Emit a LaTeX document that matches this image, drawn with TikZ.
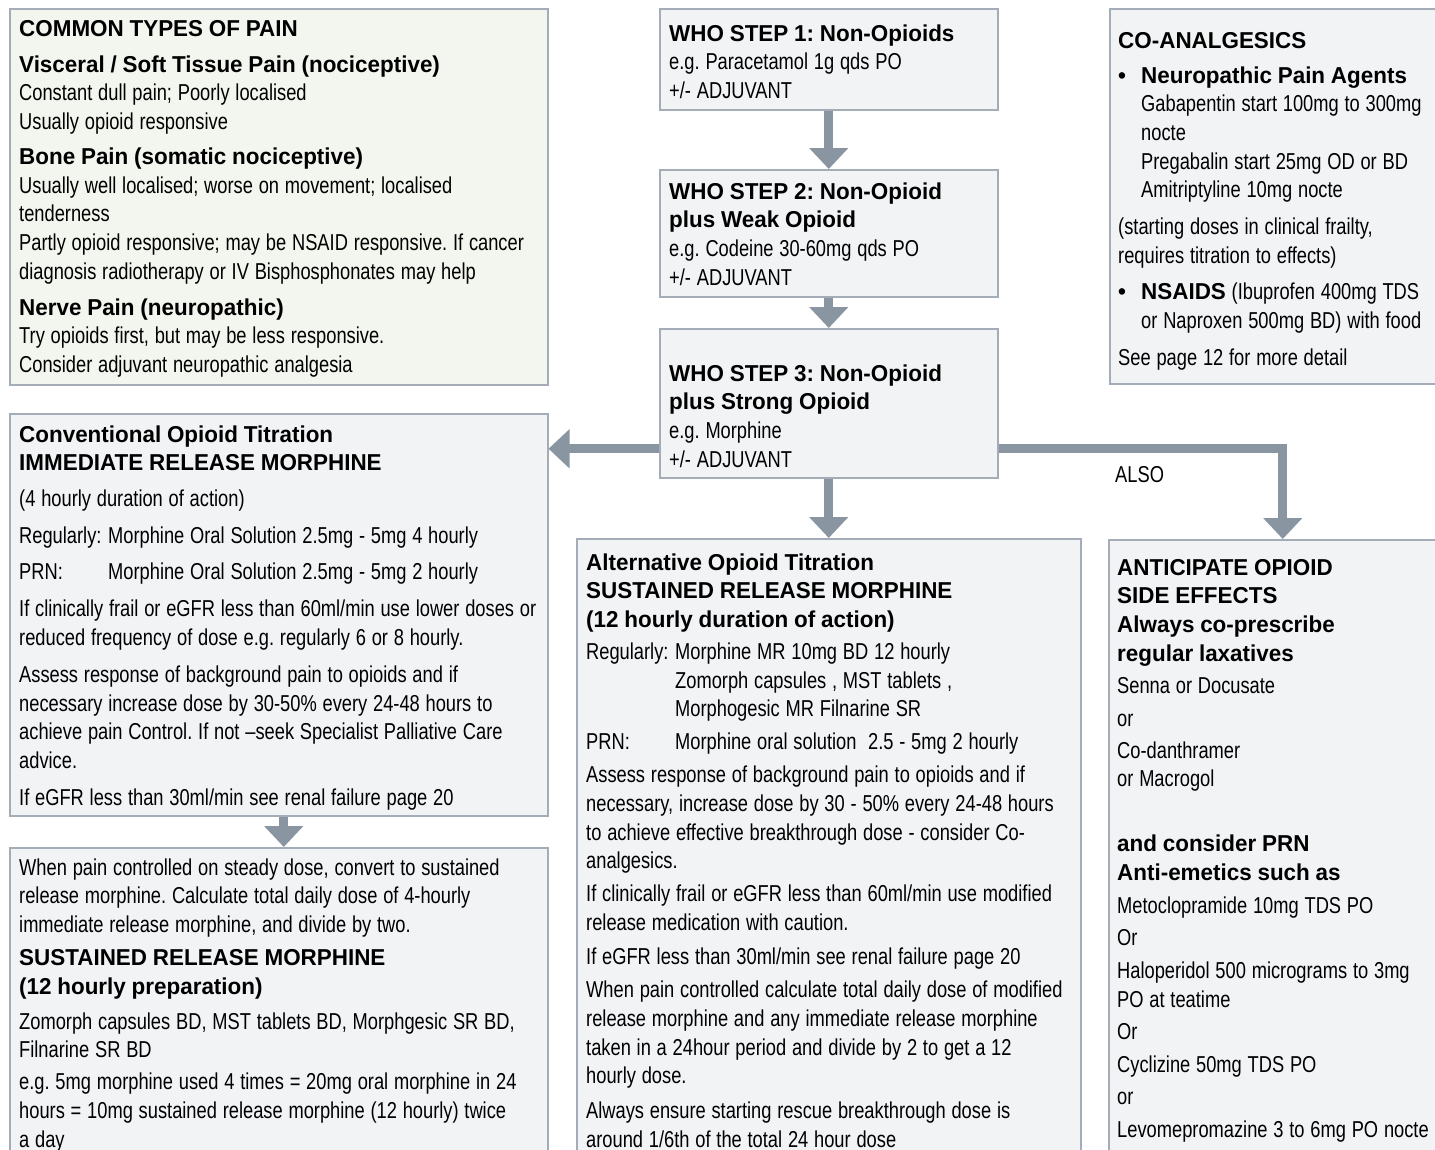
\documentclass[tikz,border=0pt]{standalone}
\usepackage{fontspec}
\setmainfont{Liberation Sans}[FakeStretch=0.795, BoldFont={Liberation Sans Bold}, BoldFeatures={FakeStretch=0.975}]
\usepackage{xcolor}
\usetikzlibrary{arrows.meta, positioning}

\definecolor{boxfill}{HTML}{F2F3F5}
\definecolor{painfill}{HTML}{F3F6EE}
\definecolor{boxline}{HTML}{A4ADB7}
\definecolor{arrowgrey}{HTML}{8A95A2}

\newcommand{\txtfont}{\fontsize{23}{28.7}\selectfont}
\newcommand{\tightspace}{\spaceskip=5.8pt plus 1pt minus 0.5pt\xspaceskip=5.8pt plus 1pt\relax}
\newcommand{\lbl}[1]{\makebox[89pt][l]{#1}}
\newcommand{\blt}{\makebox[23pt][l]{\textbf{\textbullet}}}
\frenchspacing

\begin{document}
\begin{tikzpicture}[
        x=1pt, y=-1pt,
        panel/.style={draw=boxline, fill=boxfill, line width=1.5pt, anchor=north west, inner sep=0pt},
        txt/.style={anchor=base west, inner sep=0pt, text width=700pt, align=left, font=\txtfont,
                    execute at begin node=\tightspace},
        flow/.style={draw=arrowgrey, line width=9pt, line join=miter,
                     -{Triangle[length=21pt, width=38pt]}}
      ]
        \useasboundingbox (0,0) rectangle (1435,1149);
        \clip (0,0) rectangle (1435,1149);

        % Boxes
        \node[panel, fill=painfill, minimum width=538pt, minimum height=376pt] (pain) at (9,8) {};
        \node[panel, minimum width=338pt, minimum height=101pt] (step1) at (659,8) {};
        \node[panel, minimum width=338pt, minimum height=127pt] (step2) at (659,169) {};
        \node[panel, minimum width=338pt, minimum height=149pt] (step3) at (659,328) {};
        \node[panel, minimum width=347pt, minimum height=375pt] (coan) at (1109,8) {};
        \node[panel, minimum width=538pt, minimum height=402pt] (conv) at (9,413) {};
        \node[panel, minimum width=538pt, minimum height=330pt] (srm) at (9,847) {};
        \node[panel, minimum width=504pt, minimum height=640pt] (alt) at (576,538) {};
        \node[panel, minimum width=348pt, minimum height=640pt] (antic) at (1108,539) {};

        % Common types of pain
        \node[txt] (paintxt) at (19,36) {%
          \textbf{COMMON TYPES OF PAIN}\\[7.3pt]
          \textbf{Visceral / Soft Tissue Pain (nociceptive)}\\
          Constant dull pain; Poorly localised\\
          Usually opioid responsive\\[6.3pt]
          \textbf{Bone Pain (somatic nociceptive)}\\
          Usually well localised; worse on movement; localised\\
          tenderness\\
          Partly opioid responsive; may be NSAID responsive. If cancer\\
          diagnosis radiotherapy or IV Bisphosphonates may help\\[7.3pt]
          \textbf{Nerve Pain (neuropathic)}\\
          Try opioids first, but may be less responsive.\\
          Consider adjuvant neuropathic analgesia};

        % WHO ladder
        \node[txt] (step1txt) at (669,41) {%
          \textbf{WHO STEP 1: Non-Opioids}\\
          e.g. Paracetamol 1g qds PO\\
          +/- ADJUVANT};
        \node[txt] (step2txt) at (669,199) {%
          \textbf{WHO STEP 2: Non-Opioid}\\
          \textbf{plus Weak Opioid}\\
          e.g. Codeine 30-60mg qds PO\\
          +/- ADJUVANT};
        \node[txt] (step3txt) at (669,381) {%
          \textbf{WHO STEP 3: Non-Opioid}\\
          \textbf{plus Strong Opioid}\\
          e.g. Morphine\\
          +/- ADJUVANT};

        % Co-analgesics
        \node[txt] (coantxt) at (1118,48) {%
          \textbf{CO-ANALGESICS}\\[6.3pt]
          \blt\textbf{Neuropathic Pain Agents}\\
          \hspace*{23pt}Gabapentin start 100mg to 300mg\\
          \hspace*{23pt}nocte\\
          \hspace*{23pt}Pregabalin start 25mg OD or BD\\
          \hspace*{23pt}Amitriptyline 10mg nocte\\[8.3pt]
          (starting doses in clinical frailty,\\
          requires titration to effects)\\[7.3pt]
          \blt\textbf{NSAIDS} (Ibuprofen 400mg TDS\\
          \hspace*{23pt}or Naproxen 500mg BD) with food\\[8.3pt]
          See page 12 for more detail};

        % Conventional titration
        \node[txt] (convtxt) at (19,442) {%
          \textbf{Conventional Opioid Titration}\\
          \textbf{IMMEDIATE RELEASE MORPHINE}\\[7.3pt]
          (4 hourly duration of action)\\[8.3pt]
          \lbl{Regularly:}Morphine Oral Solution 2.5mg - 5mg 4 hourly\\[7.3pt]
          \lbl{PRN:}Morphine Oral Solution 2.5mg - 5mg 2 hourly\\[8.3pt]
          If clinically frail or eGFR less than 60ml/min use lower doses or\\
          reduced frequency of dose e.g. regularly 6 or 8 hourly.\\[8.3pt]
          Assess response of background pain to opioids and if\\
          necessary increase dose by 30-50\% every 24-48 hours to\\
          achieve pain Control. If not –seek Specialist Palliative Care\\
          advice.\\[8.3pt]
          If eGFR less than 30ml/min see renal failure page 20};

        % Sustained release after conventional
        \node[txt] (srmtxt) at (19,875) {%
          When pain controlled on steady dose, convert to sustained\\
          release morphine. Calculate total daily dose of 4-hourly\\
          immediate release morphine, and divide by two.\\[4.3pt]
          \textbf{SUSTAINED RELEASE MORPHINE}\\
          \textbf{(12 hourly preparation)}\\[6.3pt]
          Zomorph capsules BD, MST tablets BD, Morphgesic SR BD,\\
          Filnarine SR BD\\[3.3pt]
          e.g. 5mg morphine used 4 times = 20mg oral morphine in 24\\
          hours = 10mg sustained release morphine (12 hourly) twice\\
          a day};

        % Alternative titration
        \node[txt] (alttxt) at (586,570) {%
          \textbf{Alternative Opioid Titration}\\
          \textbf{SUSTAINED RELEASE MORPHINE}\\
          \textbf{(12 hourly duration of action)}\\[3.3pt]
          \lbl{Regularly:}Morphine MR 10mg BD 12 hourly\\
          \lbl{}Zomorph capsules , MST tablets ,\\
          \lbl{}Morphogesic MR Filnarine SR\\[4.3pt]
          \lbl{PRN:}Morphine oral solution\ \ 2.5 - 5mg 2 hourly\\[4.3pt]
          Assess response of background pain to opioids and if\\
          necessary, increase dose by 30 - 50\% every 24-48 hours\\
          to achieve effective breakthrough dose - consider Co-\\
          analgesics.\\[4.3pt]
          If clinically frail or eGFR less than 60ml/min use modified\\
          release medication with caution.\\[5.3pt]
          If eGFR less than 30ml/min see renal failure page 20\\[4.3pt]
          When pain controlled calculate total daily dose of modified\\
          release morphine and any immediate release morphine\\
          taken in a 24hour period and divide by 2 to get a 12\\
          hourly dose.\\[6.3pt]
          Always ensure starting rescue breakthrough dose is\\
          around 1/6th of the total 24 hour dose};

        % Side effects
        \node[txt] (antictxt) at (1117,575) {%
          \textbf{ANTICIPATE OPIOID}\\
          \textbf{SIDE EFFECTS}\\
          \textbf{Always co-prescribe}\\
          \textbf{regular laxatives}\\[3.3pt]
          Senna or Docusate\\[4.3pt]
          or\\[3.3pt]
          Co-danthramer\\
          or Macrogol\\[36.3pt]
          \textbf{and consider PRN}\\
          \textbf{Anti-emetics such as}\\[4.3pt]
          Metoclopramide 10mg TDS PO\\[3.3pt]
          Or\\[4.3pt]
          Haloperidol 500 micrograms to 3mg\\
          PO at teatime\\[3.3pt]
          Or\\[4.3pt]
          Cyclizine 50mg TDS PO\\[3.3pt]
          or\\[4.3pt]
          Levomepromazine 3 to 6mg PO nocte};

        \node[anchor=base west, inner sep=0pt, font=\txtfont] (also) at (1115,482) {ALSO};

        % Connectors
        \draw[flow] (step1.south) -- (step2.north);
        \draw[flow] (step2.south) -- (step3.north);
        \draw[flow] (step3.south) -- (alt.north);
        \draw[flow] ([yshift=-45.5pt]step3.west) -- ([yshift=-45.5pt]step3.west -| conv.east);
        \draw[flow] ([yshift=-45.5pt]step3.east) -| (antic.north);
        \draw[flow] ([xshift=5pt]conv.south) -- ([xshift=5pt]srm.north);
      \end{tikzpicture}
\end{document}
